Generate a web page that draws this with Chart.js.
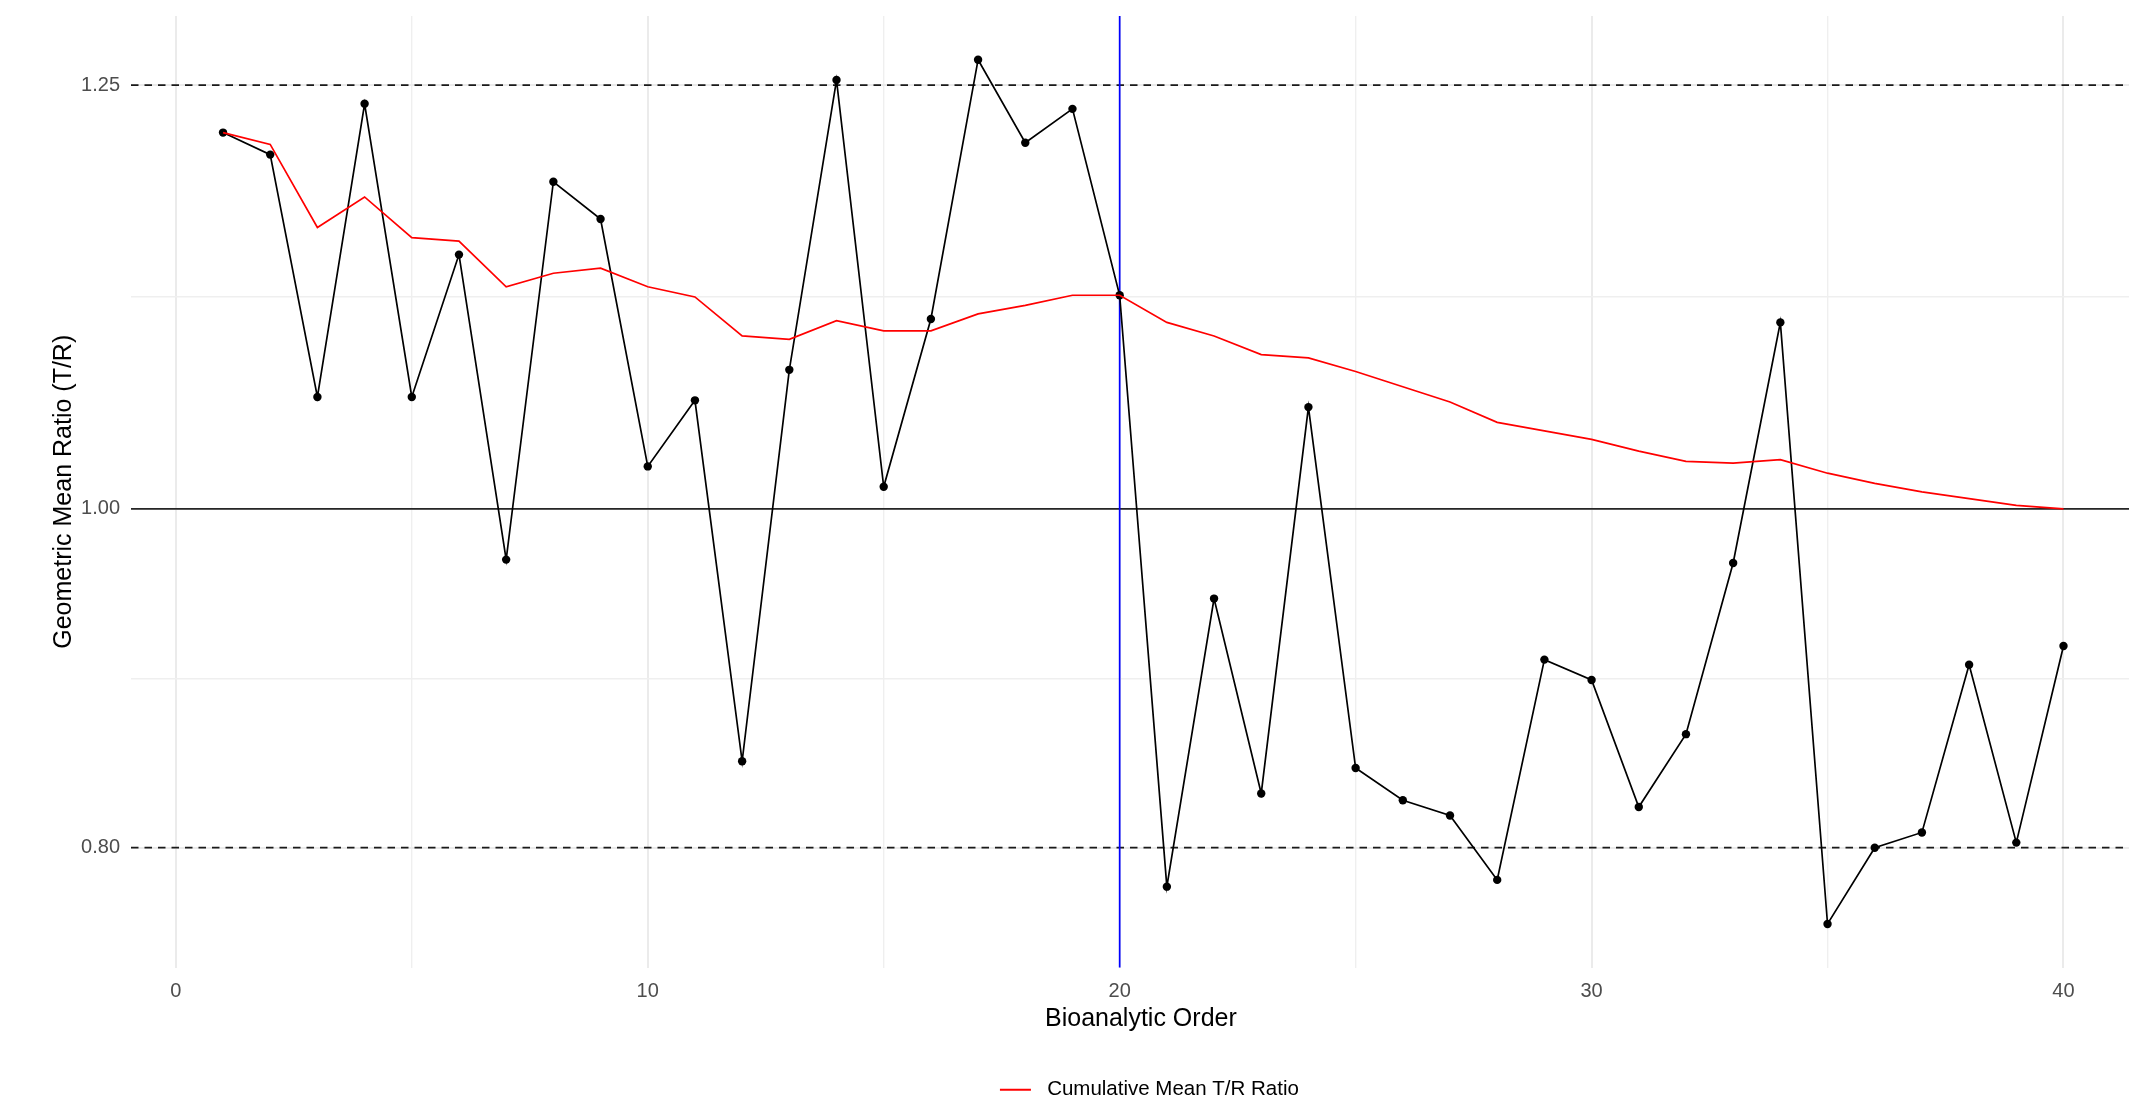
<!DOCTYPE html>
<html>
<head>
<meta charset="utf-8">
<title>Geometric Mean Ratio by Bioanalytic Order</title>
<script src="https://cdn.jsdelivr.net/npm/chart.js@4.4.1/dist/chart.umd.min.js"></script>
<style>
  html, body { margin: 0; padding: 0; background: #ffffff; overflow: hidden; }
  #wrap { width: 2129px; height: 1105px; overflow: hidden; position: relative; }
  canvas { display: block; }
</style>
</head>
<body>
<div id="wrap"><canvas id="chart" width="2155" height="1105"></canvas></div>
<script>
// Run position of each sample in the bioanalytic sequence
const order = [1, 2, 3, 4, 5, 6, 7, 8, 9, 10,
               11, 12, 13, 14, 15, 16, 17, 18, 19, 20,
               21, 22, 23, 24, 25, 26, 27, 28, 29, 30,
               31, 32, 33, 34, 35, 36, 37, 38, 39, 40];

// Geometric mean T/R ratio per position
const ratio = [1.222, 1.209, 1.066, 1.239, 1.066, 1.150, 0.970, 1.193, 1.171, 1.025,
               1.064, 0.851, 1.082, 1.253, 1.013, 1.112, 1.265, 1.216, 1.236, 1.126,
               0.777, 0.947, 0.832, 1.060, 0.847, 0.828, 0.819, 0.781, 0.911, 0.899,
               0.824, 0.867, 0.968, 1.110, 0.755, 0.800, 0.809, 0.908, 0.803, 0.919];

// Running (cumulative) mean of the T/R ratio
const cumulativeMean = [1.222, 1.215, 1.166, 1.184, 1.160, 1.158, 1.131, 1.139, 1.142, 1.131,
                        1.125, 1.102, 1.100, 1.111, 1.105, 1.105, 1.115, 1.120, 1.126, 1.126,
                        1.110, 1.102, 1.091, 1.089, 1.081, 1.072, 1.063, 1.051, 1.046, 1.041,
                        1.034, 1.028, 1.027, 1.029, 1.021, 1.015, 1.010, 1.006, 1.002, 1.000];

// Axis breaks
const xMajorTicks = [0, 10, 20, 30, 40];
const xMinorTicks = [5, 15, 25, 35];
const yMajorTicks = [0.80, 1.00, 1.25];
const yMinorTicks = [0.90, 1.125];

// Reference lines: acceptance limits, unity, and the split in run order
const limitLines = [0.80, 1.25];
const unityLine = 1.00;
const splitOrder = 20;

const FONT = '"Liberation Sans", Arial, Helvetica, sans-serif';
Chart.defaults.font.family = FONT;

const GRID_MAJOR = '#EBEBEB';
const GRID_MINOR = '#EFEFEF';

// Legend key: blank lead-in, a short red stroke, then a small gap before the text
const legendSwatch = (() => {
  const c = document.createElement('canvas');
  c.width = 54;
  c.height = 4;
  const g = c.getContext('2d');
  g.fillStyle = '#FF0000';
  g.fillRect(17, 1, 31, 2);
  return c;
})();

const referenceLines = {
  id: 'referenceLines',
  beforeDatasetsDraw(chart) {
    const { ctx, chartArea: a, scales: { x, y } } = chart;
    ctx.save();
    ctx.lineCap = 'butt';

    // dashed limits
    ctx.strokeStyle = '#1a1a1a';
    ctx.lineWidth = 1.7;
    ctx.setLineDash([7.5, 6]);
    limitLines.forEach(v => {
      const py = y.getPixelForValue(v);
      ctx.beginPath();
      ctx.moveTo(a.left, py);
      ctx.lineTo(a.right, py);
      ctx.stroke();
    });
    ctx.setLineDash([]);

    // unity line
    const py1 = y.getPixelForValue(unityLine);
    ctx.strokeStyle = '#262626';
    ctx.beginPath();
    ctx.moveTo(a.left, py1);
    ctx.lineTo(a.right, py1);
    ctx.stroke();

    // vertical split
    const px = x.getPixelForValue(splitOrder);
    ctx.strokeStyle = '#0000FF';
    ctx.lineWidth = 1.7;
    ctx.beginPath();
    ctx.moveTo(px, a.top);
    ctx.lineTo(px, a.bottom);
    ctx.stroke();

    ctx.restore();
  }
};

const toPoints = vals => order.map((o, i) => ({ x: o, y: vals[i] }));

const noEdgePadding = scale => {
  scale.paddingTop = 0;
  scale.paddingBottom = 0;
  scale.paddingLeft = 0;
  scale.paddingRight = 0;
};

new Chart(document.getElementById('chart'), {
  type: 'line',
  data: {
    datasets: [
      {
        label: 'Cumulative Mean T/R Ratio',
        data: toPoints(cumulativeMean),
        borderColor: '#FF0000',
        backgroundColor: '#FF0000',
        borderWidth: 1.7,
        pointRadius: 0,
        pointHoverRadius: 0,
        tension: 0,
        order: 0
      },
      {
        label: 'Geometric Mean Ratio',
        data: toPoints(ratio),
        borderColor: '#000000',
        backgroundColor: '#000000',
        borderWidth: 1.7,
        pointRadius: 4.2,
        pointBackgroundColor: '#000000',
        pointBorderColor: '#000000',
        pointBorderWidth: 0,
        tension: 0,
        order: 1
      }
    ]
  },
  options: {
    responsive: false,
    animation: false,
    devicePixelRatio: 1,
    layout: { padding: { top: 16, right: 0, bottom: -5, left: 0 } },
    plugins: {
      tooltip: { enabled: false },
      legend: {
        position: 'bottom',
        fullSize: false,
        labels: {
          color: '#000000',
          font: { size: 20.5, family: FONT, lineHeight: 1 },
          usePointStyle: true,
          pointStyleWidth: 54,
          boxHeight: 4,
          padding: 10,
          generateLabels(chart) {
            return Chart.defaults.plugins.legend.labels.generateLabels(chart)
              .filter(item => item.datasetIndex === 0)
              .map(item => ({ ...item, lineWidth: 0, pointStyle: legendSwatch }));
          }
        }
      }
    },
    scales: {
      x: {
        type: 'linear',
        min: -0.95,
        max: 41.85,
        afterBuildTicks(scale) {
          scale.ticks = [...xMajorTicks, ...xMinorTicks].sort((p, q) => p - q).map(v => ({ value: v }));
        },
        afterFit(scale) { scale.height = 102; noEdgePadding(scale); },
        border: { display: false },
        grid: {
          drawTicks: false,
          color: c => (c.tick && xMinorTicks.includes(c.tick.value)) ? GRID_MINOR : GRID_MAJOR,
          lineWidth: c => (c.tick && xMinorTicks.includes(c.tick.value)) ? 1.4 : 2
        },
        ticks: {
          autoSkip: false,
          maxRotation: 0,
          padding: 12,
          color: '#4D4D4D',
          font: { size: 20, family: FONT },
          callback: v => xMajorTicks.includes(v) ? String(v) : ''
        },
        title: {
          display: true,
          text: 'Bioanalytic Order',
          color: '#000000',
          font: { size: 25, family: FONT },
          padding: { top: 0, bottom: 35 }
        }
      },
      y: {
        type: 'linear',
        min: 0.7293,
        max: 1.2908,
        afterBuildTicks(scale) {
          scale.ticks = [...yMajorTicks, ...yMinorTicks].sort((p, q) => p - q).map(v => ({ value: v }));
        },
        afterFit(scale) { scale.width = 131; noEdgePadding(scale); },
        border: { display: false },
        grid: {
          drawTicks: false,
          color: c => (c.tick && yMinorTicks.includes(c.tick.value)) ? GRID_MINOR : GRID_MAJOR,
          lineWidth: c => (c.tick && yMinorTicks.includes(c.tick.value)) ? 1.4 : 2
        },
        ticks: {
          autoSkip: false,
          padding: 11,
          color: '#4D4D4D',
          font: { size: 20, family: FONT },
          callback: v => yMajorTicks.includes(v) ? v.toFixed(2) : ''
        },
        title: {
          display: true,
          text: 'Geometric Mean Ratio (T/R)',
          color: '#000000',
          font: { size: 25, family: FONT },
          padding: { top: 49.5, bottom: 0 }
        }
      }
    }
  },
  plugins: [referenceLines]
});
</script>
</body>
</html>
